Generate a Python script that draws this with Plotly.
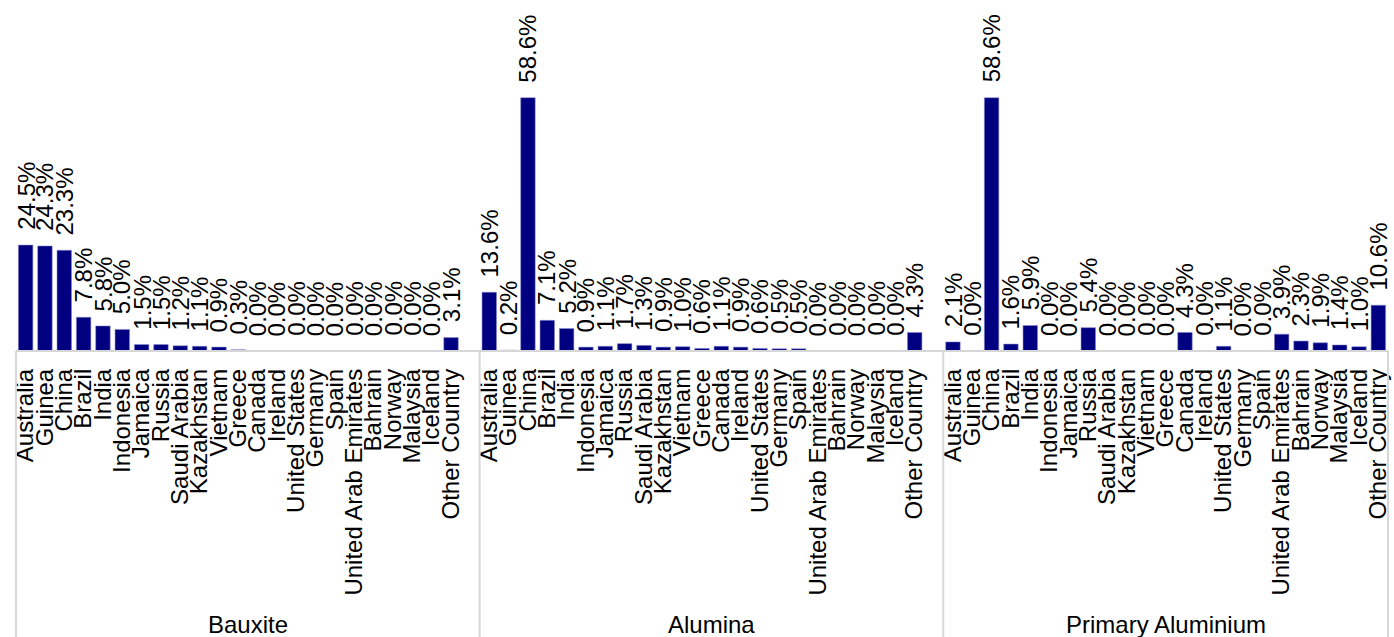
import plotly.graph_objects as go

countries = ["Australia", "Guinea", "China", "Brazil", "India", "Indonesia", "Jamaica",
             "Russia", "Saudi Arabia", "Kazakhstan", "Vietnam", "Greece", "Canada",
             "Ireland", "United States", "Germany", "Spain", "United Arab Emirates",
             "Bahrain", "Norway", "Malaysia", "Iceland", "Other Country"]

panels = ["Bauxite", "Alumina", "Primary Aluminium"]

bauxite = [24.5, 24.3, 23.3, 7.8, 5.8, 5.0, 1.5, 1.5, 1.2, 1.1, 0.9, 0.3, 0.0,
           0.0, 0.0, 0.0, 0.0, 0.0, 0.0, 0.0, 0.0, 0.0, 3.1]
alumina = [13.6, 0.2, 58.6, 7.1, 5.2, 0.9, 1.1, 1.7, 1.3, 0.9, 1.0, 0.6, 1.1,
           0.9, 0.6, 0.5, 0.5, 0.0, 0.0, 0.0, 0.0, 0.0, 4.3]
primary_aluminium = [2.1, 0.0, 58.6, 1.6, 5.9, 0.0, 0.0, 5.4, 0.0, 0.0, 0.0, 0.0, 4.3,
                     0.0, 1.1, 0.0, 0.0, 3.9, 2.3, 1.9, 1.4, 1.0, 10.6]

series = [bauxite, alumina, primary_aluminium]

W, H = 1394, 637
FONT = "Liberation Sans, Arial, sans-serif"
BASE_Y = 351  # pixel row of bar baseline
# x domains in pixels
domains_px = [(12, 459), (478, 925), (944, 1391)]
box_px = [(12, 478), (478, 944), (944, 1391)]

fig = go.Figure()
annotations = []
shapes = []

for i, (name, vals) in enumerate(zip(panels, series)):
    sfx = "" if i == 0 else str(i + 1)
    fig.add_trace(go.Bar(
        x=countries, y=vals, xaxis="x" + sfx, yaxis="y" + sfx,
        marker=dict(color="#000080", line=dict(color="rgba(140,140,210,0.9)", width=0.6)),
        showlegend=False, hoverinfo="x+y",
    ))
    d0, d1 = domains_px[i]
    fig.update_layout(**{
        "xaxis" + sfx: dict(
            domain=[d0 / W, d1 / W], type="category", anchor="y" + sfx,
            tickmode="array", tickvals=countries, ticktext=countries,
            tickangle=-90, showgrid=False, zeroline=False, showline=False,
            ticks="", ticklabelstandoff=12,
            tickfont=dict(family=FONT, size=24, color="black"),
            range=[-0.5, len(countries) - 0.5], fixedrange=True,
        ),
        "yaxis" + sfx: dict(
            domain=[1 - BASE_Y / H, 1], anchor="x" + sfx, visible=False,
            range=[0, 81.2], showgrid=False, zeroline=False, fixedrange=True,
        ),
    })
    for c, v in zip(countries, vals):
        annotations.append(dict(
            x=c, y=v, xref="x" + sfx, yref="y" + sfx, text=f"{v:.1f}%",
            textangle=-90, showarrow=False, xanchor="center", yanchor="bottom",
            yshift=13, font=dict(family=FONT, size=24, color="black"),
        ))
    b0, b1 = box_px[i]
    annotations.append(dict(
        x=(b0 + b1) / 2 / W, y=1 - 624 / H, xref="paper", yref="paper",
        text=name, showarrow=False, xanchor="center", yanchor="middle",
        font=dict(family=FONT, size=24, color="black"),
    ))

line_style = dict(color="#d6d6d6", width=2)
shapes.append(dict(type="line", xref="paper", yref="paper",
                   x0=12 / W, x1=1391 / W, y0=1 - BASE_Y / H, y1=1 - BASE_Y / H,
                   line=line_style))
for xp in [12, 478, 944, 1391]:
    shapes.append(dict(type="line", xref="paper", yref="paper",
                       x0=xp / W, x1=xp / W, y0=0, y1=1 - BASE_Y / H,
                       line=line_style))

fig.update_layout(
    width=W, height=H, margin=dict(l=0, r=0, t=0, b=0),
    paper_bgcolor="white", plot_bgcolor="white",
    bargap=0.25, annotations=annotations, shapes=shapes,
    font=dict(family=FONT, size=24, color="black"),
    showlegend=False,
)

fig.write_html("out.html", config={"displayModeBar": False},
               post_script="document.body.style.margin='0';document.body.style.overflow='hidden';")
